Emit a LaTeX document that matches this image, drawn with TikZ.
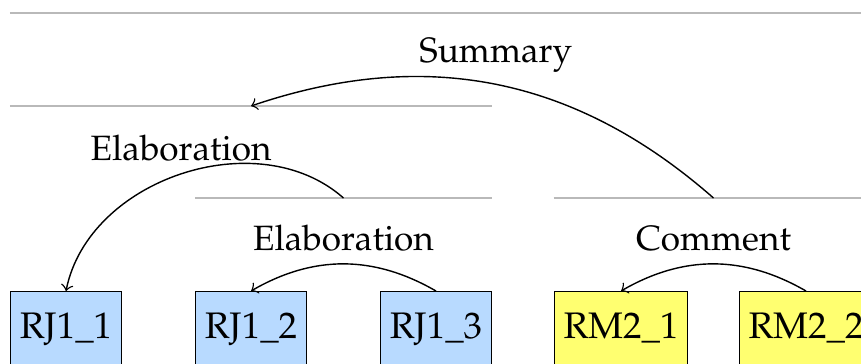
\documentclass[tikz,border=0pt]{standalone}
\usepackage[T1]{fontenc}
\usepackage{mathpazo}
\usetikzlibrary{arrows}

\definecolor{rjblue}{RGB}{184,218,255}
\definecolor{rmyellow}{RGB}{255,255,112}
\tikzset{
  edu/.style={draw, anchor=north, inner xsep=2.6pt, font=\fontsize{10.5}{12.6}\selectfont,
    text height=0.353cm, text depth=0.5cm},
  rj/.style={edu, fill=rjblue},
  rm/.style={edu, fill=rmyellow},
  span/.style={draw=gray!55, line width=0.6pt},
}

\begin{document}
\begin{tikzpicture}[x=0.01cm, y=-0.01cm]
        \useasboundingbox (0,0) rectangle (861,363);
        \clip (0,0) rectangle (861,363);
        \node[rj](j1) at (66,291)  {RJ1\_1};
        \node[rj](j2) at (251,291) {RJ1\_2};
        \node[rj](j3) at (436,291) {RJ1\_3};
        \node[rm](m1) at (621,291) {RM2\_1};
        \node[rm](m2) at (806,291) {RM2\_2};
        \draw[span] (j1.west |- 0,13)  -- (m2.east |- 0,13);
        \draw[span] (j1.west |- 0,106) -- coordinate (e1) (j3.east |- 0,106);
        \draw[span] (j2.west |- 0,198) -- coordinate (e2) (j3.east |- 0,198);
        \draw[span] (m1.west |- 0,198) -- coordinate (c1) (m2.east |- 0,198);
        \path[->]
            (c1) edge [bend right] node[above] {Summary} (e1)
            (e2) edge [bend right=60] node[above] {Elaboration} (j1.north)
            (j3.north)
                edge [bend right] node[above] {Elaboration} (j2.north)
            (m2.north)
                edge [bend right] node[above] {Comment} (m1.north)
            ;
    \end{tikzpicture}
\end{document}
